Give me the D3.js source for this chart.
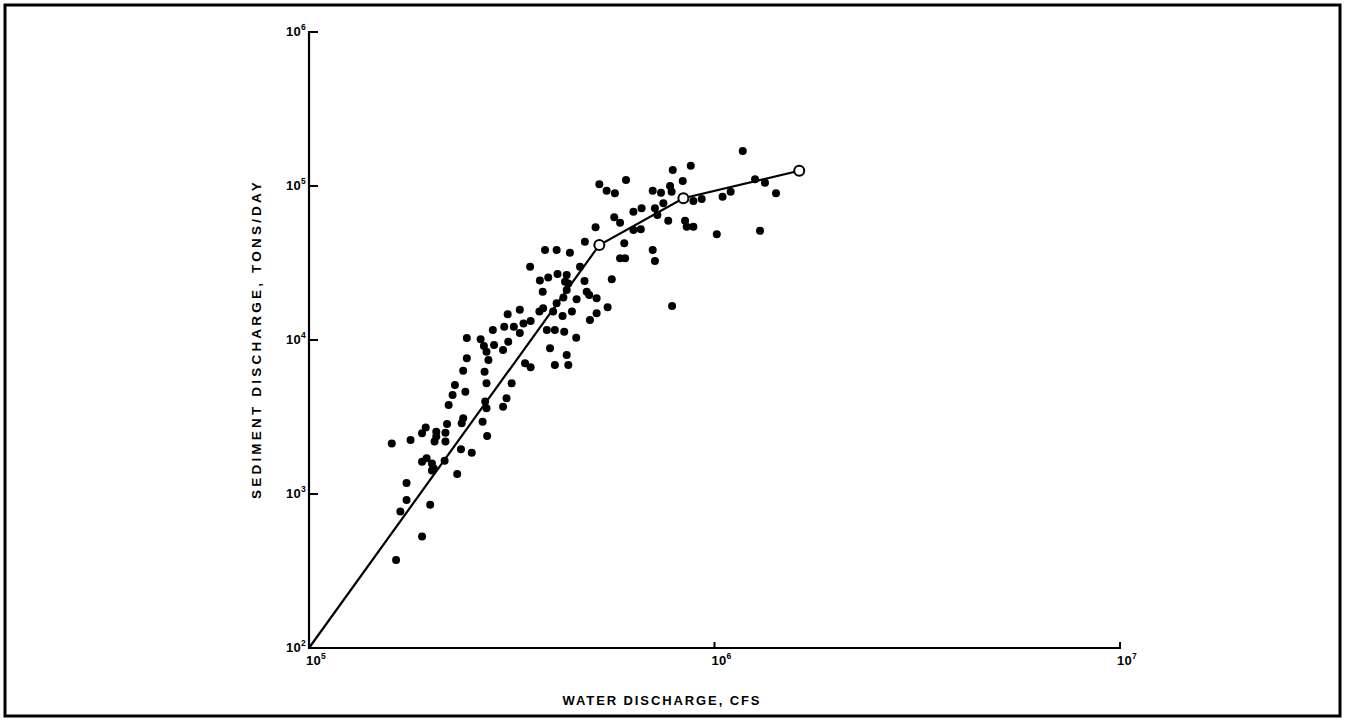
<!DOCTYPE html>
<html><head><meta charset="utf-8">
<script src="https://cdn.jsdelivr.net/npm/d3@7"></script>
<style>
body{margin:0;background:#fff}
svg{display:block}
text{font-family:"Liberation Sans",Arial,Helvetica,sans-serif;font-weight:bold;fill:#000}
</style>
</head><body>
<svg id="chart" width="1345" height="721"></svg>
<script>
// Water discharge, cfs
const waterDischarge = [
160e3,178e3,190e3,194e3,206e3,206e3,204e3,219e3,217e3,217e3,
240e3,238e3,268e3,275e3,237e3,252e3,232e3,216e3,190e3,195e3,
201e3,203e3,201e3,174e3,174e3,168e3,199e3,190e3,164e3,
509e3,585e3,631e3,479e3,599e3,585e3,602e3,382e3,408e3,440e3,
351e3,466e3,558e3,371e3,389e3,410e3,432e3,428e3,436e3,432e3,
478e3,377e3,484e3,491e3,512e3,457e3,424e3,408e3,309e3,331e3,
370e3,378e3,400e3,422e3,445e3,545e3,512e3,493e3,303e3,320e3,
338e3,352e3,331e3,386e3,404e3,426e3,284e3,245e3,265e3,270e3,
274e3,277e3,286e3,310e3,301e3,456e3,393e3,432e3,404e3,436e3,
341e3,352e3,245e3,240e3,271e3,274e3,316e3,229e3,226e3,221e3,
243e3,272e3,274e3,307e3,301e3,
1174e3,789e3,874e3,605e3,520e3,542e3,568e3,835e3,777e3,784e3,
704e3,738e3,887e3,930e3,1047e3,1096e3,1259e3,1332e3,1418e3,748e3,
713e3,723e3,661e3,631e3,566e3,658e3,769e3,846e3,854e3,887e3,
1013e3,1295e3,704e3,713e3,786e3
];
// Sediment discharge, tons/day
const sedimentDischarge = [
2130,2240,2480,2700,2540,2360,2190,2850,2500,2190,
3100,2880,2950,2380,1950,1850,1350,1645,1620,1705,
1580,1470,1420,1180,914,770,850,530,373,
53900,57800,51800,43500,42500,33900,33900,38400,38400,36900,
29900,29900,24800,24300,25500,26800,26400,23900,23300,21100,
24200,20600,20600,19600,18700,18400,18900,17300,14700,15700,
15300,16100,15300,14300,15300,16300,14900,13500,12200,12200,
12800,13300,11100,11600,11600,11300,11600,10300,10100,9140,
8400,7410,9280,9750,8610,10350,8830,7990,6880,6880,
7060,6650,7610,6320,6230,5230,5230,5100,4390,3780,
4620,3980,3600,4180,3690,
168800,127000,135500,109400,102600,93200,89700,107800,100000,91800,
93200,90500,79900,82300,85200,91800,110500,105100,89700,77200,
71700,64800,71700,68100,62600,52300,59500,59500,54400,54400,
48600,51200,38400,32600,16600
];
// Rating curve vertices (open circles at the last three)
const curveWater = [100e3, 520e3, 838e3, 1618e3];
const curveSediment = [100, 41400, 83200, 125600];
const curveOpen = [false, true, true, true];

const xTickValues = [1e5, 1e6, 1e7];
const xTickExp = ["5", "6", "7"];
const yTickValues = [1e2, 1e3, 1e4, 1e5, 1e6];
const yTickExp = ["2", "3", "4", "5", "6"];
const xTitle = "WATER DISCHARGE, CFS";
const yTitle = "SEDIMENT DISCHARGE, TONS/DAY";

const svg = d3.select("#chart");
const L = 309, R = 1120, T = 32, B = 648;
const x = d3.scaleLog().domain([1e5, 1e7]).range([L, R]);
const y = d3.scaleLog().domain([1e2, 1e6]).range([B, T]);

// page frame
svg.append("rect").attr("x", 5).attr("y", 5).attr("width", 1335).attr("height", 711)
  .attr("fill", "none").attr("stroke", "#000").attr("stroke-width", 3);

// axes lines
svg.append("line").attr("x1", L).attr("x2", L).attr("y1", T - 1).attr("y2", B + 1)
  .attr("stroke", "#000").attr("stroke-width", 2.2);
svg.append("line").attr("x1", L - 1).attr("x2", R + 1).attr("y1", B).attr("y2", B)
  .attr("stroke", "#000").attr("stroke-width", 2.2);

// y ticks
yTickValues.forEach((v, i) => {
  if (i > 0) svg.append("line").attr("x1", L).attr("x2", L + 9).attr("y1", y(v)).attr("y2", y(v))
    .attr("stroke", "#000").attr("stroke-width", 2);
  const t = svg.append("text").attr("x", L - 3).attr("y", y(v) + 4).attr("text-anchor", "end")
    .attr("font-size", 13).attr("letter-spacing", 0.3);
  t.append("tspan").text("10");
  t.append("tspan").attr("font-size", 8.5).attr("dy", -6).text(yTickExp[i]);
});
// x ticks
xTickValues.forEach((v, i) => {
  if (i > 0) svg.append("line").attr("x1", x(v)).attr("x2", x(v)).attr("y1", B).attr("y2", B - 6)
    .attr("stroke", "#000").attr("stroke-width", 2);
  const t = svg.append("text").attr("x", x(v) + 7).attr("y", B + 17).attr("text-anchor", "middle")
    .attr("font-size", 13).attr("letter-spacing", 0.3);
  t.append("tspan").text("10");
  t.append("tspan").attr("font-size", 8.5).attr("dy", -6).text(xTickExp[i]);
});

// titles
svg.append("text").attr("x", 662).attr("y", 705).attr("text-anchor", "middle")
  .attr("font-size", 13).attr("letter-spacing", 1.9).text(xTitle);
svg.append("text").attr("transform", "translate(261,339) rotate(-90)").attr("text-anchor", "middle")
  .attr("font-size", 13.5).attr("letter-spacing", 3.2).text(yTitle);

// points
const pts = waterDischarge.map((q, i) => ({ q, s: sedimentDischarge[i] }));
svg.append("g").selectAll("circle").data(pts).join("circle")
  .attr("cx", d => x(d.q)).attr("cy", d => y(d.s)).attr("r", 4).attr("fill", "#000");

// curve
const curve = curveWater.map((q, i) => ({ q, s: curveSediment[i], open: curveOpen[i] }));
svg.append("path").datum(curve)
  .attr("d", d3.line().x(d => x(d.q)).y(d => y(d.s)))
  .attr("fill", "none").attr("stroke", "#000").attr("stroke-width", 2.2);
svg.append("g").selectAll("circle").data(curve.filter(d => d.open)).join("circle")
  .attr("cx", d => x(d.q)).attr("cy", d => y(d.s)).attr("r", 5)
  .attr("fill", "#fff").attr("stroke", "#000").attr("stroke-width", 2);
</script>
</body></html>
